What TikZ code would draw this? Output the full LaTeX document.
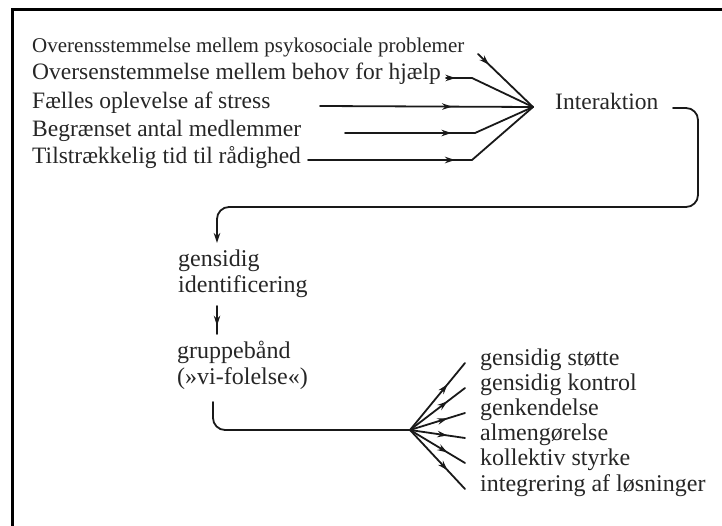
\documentclass[tikz,border=0pt]{standalone}
\usepackage{fontspec}
\setmainfont{Liberation Serif}
\usetikzlibrary{arrows.meta,decorations.markings,calc}

\tikzset{
  lbl/.style={inner sep=0pt, text=black!85, font=\fontsize{23.5}{28}\selectfont},
  smalllbl/.style={lbl, font=\fontsize{21}{26}\selectfont},
  itemlbl/.style={lbl, font=\fontsize{24}{26}\selectfont},
  conn/.style={line width=1.8pt, line cap=round, line join=round, black!90},
  frameline/.style={line width=2.2pt, black},
  midarrow/.style={postaction={decorate}, decoration={markings,
      mark=at position #1 with {\arrow{Stealth[length=10pt,width=6.5pt]}}}},
  endarrow/.style={-{Stealth[length=10pt,width=6.5pt]}},
}

\begin{document}
\begin{tikzpicture}[x=1pt,y=-1pt]
\useasboundingbox (0,0) rectangle (722,526);

% frame (top and left edges)
\draw[frameline] (12.5,526) -- (12.5,9.5) -- (722,9.5);

% upper factors
\node[smalllbl, anchor=mid west] (t1) at (32,50) {Overensstemmelse mellem psykosociale problemer};
\node[lbl, anchor=mid west] (t2) at (32,77) {Oversenstemmelse mellem behov for hjælp};
\node[lbl, anchor=mid west] (t3) at (32,106) {Fælles oplevelse af stress};
\node[lbl, anchor=mid west] (t4) at (32,134) {Begrænset antal medlemmer};
\node[lbl, anchor=mid west] (t5) at (32,161) {Tilstrækkelig tid til rådighed};

\node[lbl, anchor=mid west] (inter) at (555,107) {Interaktion};

\coordinate (c1) at (533,107);
\coordinate (a1) at (478,54);
\coordinate (a2) at (446,78);
\coordinate (b2) at (472,78);
\coordinate (a3) at (320,106);
\coordinate (a4) at (345,133);
\coordinate (b4) at (475,133);
\coordinate (a5) at (308,160);
\coordinate (b5) at (472,160);

\draw[conn, midarrow=0.2] (a1) -- (c1);
\draw[conn, midarrow=0.1] (a2) -- (b2) -- (c1);
\draw[conn, midarrow=0.62] (a3) -- (c1);
\draw[conn, midarrow=0.55] (a4) -- (b4) -- (c1);
\draw[conn, midarrow=0.6] (a5) -- (b5) -- (c1);

% middle chain
\node[itemlbl, anchor=north west, align=left] (gi) at (178,250) {gensidig\\identificering};
\node[itemlbl, anchor=north west, align=left] (gb) at (177,341) {gruppebånd\\(»vi-folelse«)};

\coordinate (i0) at (673,108);
\coordinate (g0) at (217,243);
\draw[conn, endarrow, rounded corners=12pt] (i0) -- (698,108) -- (698,207) -- (217,207) -- (g0);

\coordinate (m1) at (217,306);
\coordinate (m2) at (217,334);
\draw[conn, midarrow=0.7] (m1) -- (m2);

\coordinate (c2) at (410,430);
\coordinate (gb0) at (213,402);
\draw[conn, rounded corners=12pt] (gb0) -- (213,430) -- (c2);

% outcomes
\node[itemlbl, anchor=mid west] (s1) at (480,363) {gensidig støtte};
\node[itemlbl, anchor=mid west] (s2) at (480,388) {gensidig kontrol};
\node[itemlbl, anchor=mid west] (s3) at (480,413) {genkendelse};
\node[itemlbl, anchor=mid west] (s4) at (480,438) {almengørelse};
\node[itemlbl, anchor=mid west] (s5) at (480,463) {kollektiv styrke};
\node[itemlbl, anchor=mid west] (s6) at (480,489) {integrering af løsninger};

\foreach \s in {s1,s2,s3,s4,s5,s6}{
  \draw[conn, midarrow=0.68] (c2) -- ([xshift=-15pt]\s.mid west);
}
\end{tikzpicture}
\end{document}
